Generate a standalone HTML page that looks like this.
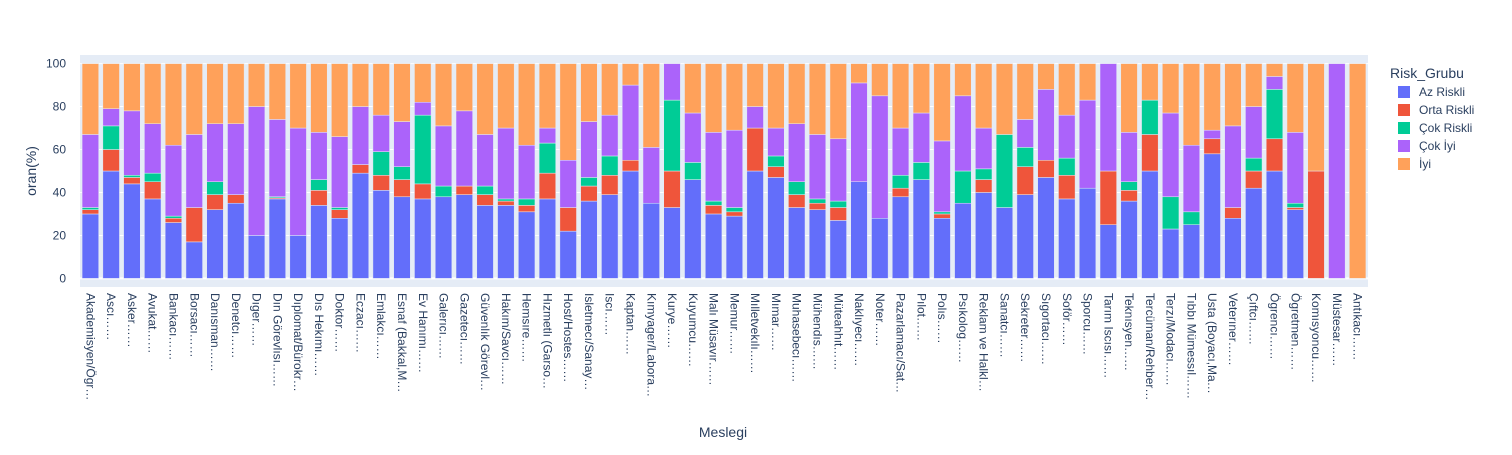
<!DOCTYPE html>
<html><head><meta charset="utf-8"><style>
body{margin:0;background:#fff;font-family:"Liberation Sans",sans-serif;}
svg text{font-family:"Liberation Sans","DejaVu Sans",sans-serif;fill:#2a3f5f;}
</style></head><body>
<svg id="chart" width="1512" height="450" xmlns="http://www.w3.org/2000/svg">
<rect x="80" y="55" width="1288" height="232" fill="#e5ecf6"/>
<g id="grid"></g><g id="bars"></g><g id="xticks"></g><g id="yticks"></g>
<text x="36" y="171" font-size="14" text-anchor="middle" transform="rotate(-90 36 171)">oran(%)</text>
<text x="723" y="437" font-size="14" text-anchor="middle">Meslegi</text>
<g id="legend">
<text x="1390" y="78" font-size="14">Risk_Grubu</text>
</g>
</svg>
<script>
const categories=["Akademisyen/Ögr…","Ascı……","Asker……","Avukat……","Bankacı……","Borsacı……","Danısman……","Denetcı……","Dıger……","Dın Görevlısı……","Dıplomat/Bürokr…","Dıs Hekımı……","Doktor……","Eczacı……","Emlakcı……","Esnaf (Bakkal,M…","Ev Hanımı……","Galerıcı……","Gazetecı……","Güvenlık Görevl…","Hakım/Savcı……","Hemsıre……","Hızmetlı (Garso…","Host/Hostes……","Isletmecı/Sanay…","Iscı……","Kaptan……","Kımyager/Labora…","Kurye……","Kuyumcu……","Malı Müsavır……","Memur……","Mılletvekılı……","Mımar……","Muhasebecı……","Mühendıs……","Müteahhıt……","Naklıyecı……","Noter……","Pazarlamacı/Sat…","Pılot……","Polıs……","Psıkolog……","Reklam ve Halkl…","Sanatcı……","Sekreter……","Sıgortacı……","Soför……","Sporcu……","Tarım Iscısı……","Teknısyen……","Tercüman/Rehber…","Terzı/Modacı……","Tıbbı Mümessıl……","Usta (Boyacı,Ma…","Veterıner……","Çıftcı……","Ögrencı……","Ögretmen……","Komısyoncu……","Müstesar……","Antıkacı……"];
const azRiskli=[30,50,44,37,26,17,32,35,20,37,20,34,28,49,41,38,37,38,39,34,34,31,37,22,36,39,50,35,33,46,30,29,50,47,33,32,27,45,28,38,46,28,35,40,33,39,47,37,42,25,36,50,23,25,58,28,42,50,32,0,0,0];
const ortaRiskli=[2,10,3,8,2,16,7,4,0,0.5,0,7,4,4,7,8,7,0,4,5,2,3,12,11,7,9,5,0,17,0,4,2,20,5,6,3,6,0,0,4,0,2,0,6,0,13,8,11,0,25,5,17,0,0,7,5,8,15,1,50,0,0];
const cokRiskli=[1,11,1,4,1,0,6,0,0,0.5,0,5,1,0,11,6,32,5,0,4,1,3,14,0,4,9,0,0,33,8,2,2,0,5,6,2,3,0,0,6,8,1,15,5,34,9,0,8,0,0,4,16,15,6,0,0,6,23,2,0,0,0];
const cokIyi=[34,8,30,23,33,34,27,33,60,36,50,22,33,27,17,21,6,28,35,24,33,25,7,22,26,19,35,26,17,23,32,36,10,13,27,30,29,46,57,22,23,33,35,19,0,13,33,20,41,50,23,0,39,31,4,38,24,6,33,0,100,0];
const iyi=[33,21,22,28,38,33,28,28,20,26,30,32,34,20,24,27,18,29,22,33,30,38,30,45,27,24,10,39,0,23,32,31,20,30,28,33,35,9,15,30,23,36,15,30,33,26,12,24,17,0,32,17,23,38,31,29,20,6,32,50,0,100];
const seriesNames=["Az Riskli","Orta Riskli","Çok Riskli","Çok İyi","İyi"];
const seriesColors=["#636efa","#EF553B","#00cc96","#ab63fa","#FFA15A"];
const yTicks=[0,20,40,60,80,100];
const NS="http://www.w3.org/2000/svg";
const X0=80,X1=1368,YT=55,YB=287,YMIN=-4,YMAX=104;
const band=(X1-X0)/categories.length;
const xc=i=>X0+band*(i+0.5);
const yv=v=>YB-(v-YMIN)/(YMAX-YMIN)*(YB-YT);
function mk(tag,attrs,parent){const e=document.createElementNS(NS,tag);for(const k in attrs)e.setAttribute(k,attrs[k]);parent.appendChild(e);return e;}
const grid=document.getElementById('grid'),yt=document.getElementById('yticks');
yTicks.forEach(t=>{
 const l=mk('line',{x1:X0,x2:X1,y1:yv(t),y2:yv(t),stroke:t===0?'#fff':'#fff','stroke-width':t===0?2:1},grid);
 
 
 const tx=mk('text',{x:X0-14,y:yv(t)+4,'font-size':12,'text-anchor':'end'},yt);
 tx.textContent=t;
 
 
});
const series=[azRiskli,ortaRiskli,cokRiskli,cokIyi,iyi];
const bars=document.getElementById('bars'),xt=document.getElementById('xticks');
const bw=band*0.8;
categories.forEach((c,i)=>{
 let base=0;
 series.forEach((s,k)=>{
  const v=s[i];
  if(v>0){
   const r=mk('rect',{x:xc(i)-bw/2,y:yv(base+v),width:bw,height:yv(base)-yv(base+v),fill:seriesColors[k],stroke:'#e5ecf6','stroke-width':0.5},bars);
   
   
  }
  base+=v;
 });
 const t=mk('text',{x:0,y:0,'font-size':12,transform:'translate('+(xc(i)-4)+',293) rotate(90)'},xt);
 t.textContent=c;
 
 
});
const lg=document.getElementById('legend');
seriesNames.forEach((n,k)=>{
 const y=92+k*18;
 const r=mk('rect',{x:1398,y:y-6,width:12,height:12,fill:seriesColors[k]},lg);
 
 
 const t=mk('text',{x:1419,y:y+4,'font-size':12},lg);
 t.textContent=n;
 
 
});
</script>
</body></html>
